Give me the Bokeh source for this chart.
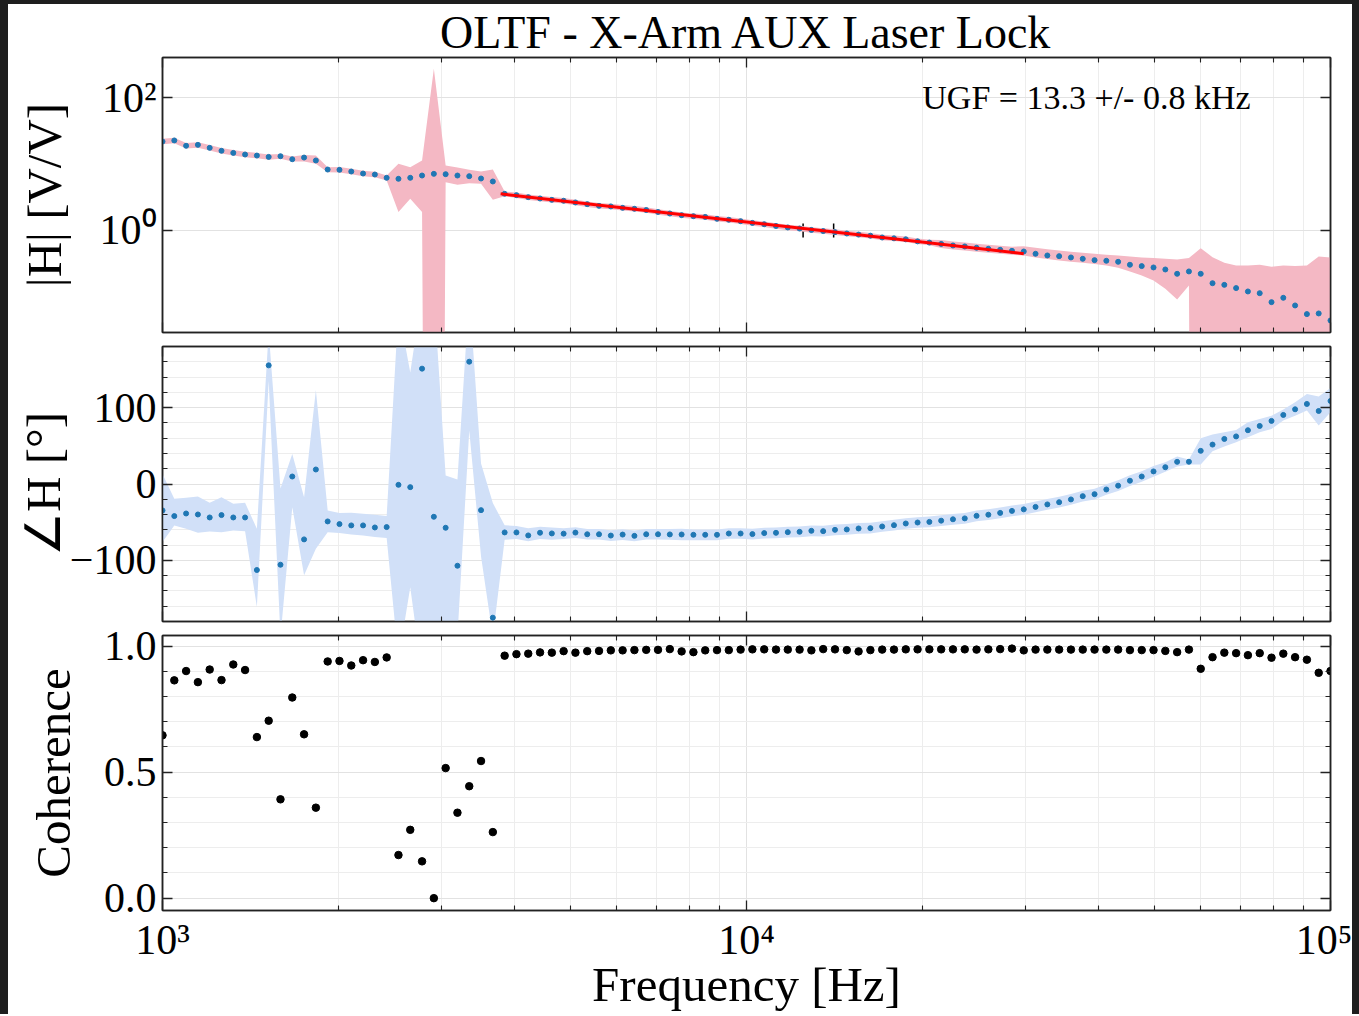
import numpy as np
from bokeh.plotting import figure
from bokeh.layouts import column
from bokeh.models import (Range1d, FixedTicker, LogAxis, LinearAxis, ColumnDataSource,
                          Whisker, TeeHead)
from bokeh.core.properties import value
from bokeh.embed import file_html
from bokeh.resources import INLINE

# swept-sine measurement grid: 100 log-spaced points, 1 kHz .. 100 kHz
freq = np.logspace(3, 5, 100)

mag = [21.8, 22.6, 18.8, 19.4, 17.5, 15.8, 14.7, 13.9, 13.4, 12.8,
       13.1, 11.8, 12.5, 11.3, 8.26, 8.17, 7.71, 7.19, 6.95, 6.20,
       5.99, 6.20, 6.71, 7.11, 7.03, 6.71, 6.56, 6.05, 5.46, 3.56,
       3.40, 3.17, 3.03, 2.89, 2.80, 2.64, 2.49, 2.35, 2.30, 2.19,
       2.12, 2.03, 1.90, 1.80, 1.70, 1.64, 1.60, 1.50, 1.45, 1.38,
       1.30, 1.24, 1.17, 1.11, 1.07, 1.02, 0.98, 0.944, 0.902, 0.868,
       0.835, 0.785, 0.762, 0.736, 0.686, 0.658, 0.628, 0.595, 0.575, 0.549,
       0.530, 0.512, 0.494, 0.483, 0.446, 0.421, 0.411, 0.393, 0.375, 0.358,
       0.350, 0.338, 0.305, 0.291, 0.278, 0.259, 0.223, 0.242, 0.223, 0.161,
       0.152, 0.136, 0.121, 0.114, 0.0836, 0.0971, 0.0745, 0.0552, 0.0565, 0.0443]

mag_hi = [24.0, 24.9, 20.7, 21.3, 19.3, 17.4, 16.2, 15.3, 14.7, 13.9,
          14.2, 13.0, 13.7, 13.4, 8.95, 8.99, 8.48, 7.91, 7.65, 6.71,
          10.07, 8.95, 11.3, 270.0, 9.49, 8.86, 8.17, 7.71, 8.26, 3.86,
          3.74, 3.49, 3.33, 3.18, 3.08, 2.90, 2.74, 2.59, 2.53, 2.41,
          2.33, 2.23, 2.09, 1.98, 1.87, 1.80, 1.76, 1.65, 1.60, 1.52,
          1.43, 1.36, 1.29, 1.22, 1.18, 1.12, 1.08, 1.04, 0.992, 0.955,
          0.919, 0.864, 0.838, 0.810, 0.755, 0.724, 0.722, 0.684, 0.661, 0.631,
          0.610, 0.589, 0.568, 0.581, 0.548, 0.524, 0.500, 0.477, 0.461, 0.446,
          0.430, 0.421, 0.406, 0.393, 0.384, 0.375, 0.366, 0.384, 0.542, 0.397,
          0.327, 0.298, 0.298, 0.305, 0.284, 0.298, 0.291, 0.298, 0.406, 0.393]

mag_lo = [19.8, 20.5, 17.1, 17.6, 15.9, 14.4, 13.4, 12.6, 12.2, 11.6,
          12.0, 10.9, 10.9, 10.1, 7.53, 7.43, 7.01, 6.54, 6.32, 5.65,
          1.89, 2.99, 1.89, 1e-30, 5.33, 4.86, 5.15, 5.03, 2.89, 3.28,
          3.09, 2.88, 2.75, 2.63, 2.55, 2.40, 2.26, 2.14, 2.09, 1.99,
          1.93, 1.85, 1.73, 1.64, 1.55, 1.49, 1.45, 1.36, 1.32, 1.25,
          1.18, 1.13, 1.06, 1.01, 0.973, 0.927, 0.891, 0.858, 0.820, 0.789,
          0.759, 0.714, 0.693, 0.669, 0.624, 0.598, 0.546, 0.517, 0.500, 0.477,
          0.461, 0.445, 0.430, 0.421, 0.393, 0.371, 0.354, 0.338, 0.327, 0.312,
          0.298, 0.275, 0.242, 0.210, 0.177, 0.133, 0.0917, 0.149, 1e-30, 1e-30,
          1e-30, 1e-30, 1e-30, 1e-30, 1e-30, 1e-30, 1e-30, 1e-30, 1e-30, 1e-30]

phase = [-34.6, -42.0, -38.6, -39.9, -43.8, -40.7, -43.8, -43.8, -112.6, 155.3,
         -105.7, 9.8, -72.5, 19.0, -49.0, -52.5, -54.2, -54.2, -56.9, -56.4,
         -1.1, -4.1, 151.0, -42.9, -57.3, -107.0, 160.1, -34.2, -175.0, -63.4,
         -63.4, -67.3, -63.8, -64.7, -65.0, -63.6, -65.8, -65.8, -67.5, -66.2,
         -67.9, -65.8, -65.8, -66.0, -66.1, -66.5, -66.5, -66.5, -64.8, -64.8,
         -65.6, -64.3, -63.9, -63.0, -62.6, -61.3, -61.7, -60.0, -59.5, -58.2,
         -57.8, -55.6, -53.9, -51.7, -50.4, -49.6, -48.0, -46.2, -45.0, -41.7,
         -40.2, -37.8, -35.2, -33.2, -30.0, -26.7, -23.8, -20.2, -15.9, -13.3,
         -7.2, -2.2, 4.3, 9.8, 16.5, 22.0, 29.0, 29.1, 43.4, 51.6,
         59.0, 62.3, 70.4, 76.0, 82.6, 90.4, 97.8, 104.8, 95.6, 108.7]

phase_hi = [13.0, -19.4, -18.1, -16.3, -24.6, -17.2, -25.9, -24.6, -58.6, 200.0,
            -6.0, 39.4, -17.2, 123.0, -34.6, -38.0, -37.7, -39.0, -40.3, -42.0,
            230.0, 146.0, 250.0, 250.0, 11.0, 6.0, 250.0, 27.0, -25.0, -54.0,
            -55.0, -58.0, -56.0, -57.0, -58.0, -56.6, -58.8, -58.8, -60.5, -59.2,
            -60.9, -58.8, -58.8, -59.0, -58.5, -59.5, -59.5, -59.5, -57.8, -57.8,
            -58.6, -57.3, -56.9, -56.0, -55.6, -54.3, -54.7, -53.0, -52.5, -51.2,
            -50.8, -48.6, -46.9, -44.7, -43.4, -42.6, -41.0, -39.2, -38.0, -34.7,
            -33.2, -30.8, -28.2, -26.2, -23.0, -19.7, -16.8, -13.2, -8.9, -6.3,
            -0.2, 4.8, 11.3, 16.8, 23.5, 28.5, 36.0, 32.0, 60.0, 64.7,
            67.8, 70.8, 80.8, 85.2, 89.5, 97.4, 107.0, 117.9, 114.4, 125.7]

phase_lo = [-76.0, -54.2, -58.6, -63.8, -62.1, -63.0, -60.8, -61.7, -161.0, 135.0,
            -200.0, -30.3, -119.6, -84.8, -63.0, -64.3, -66.0, -67.3, -69.5, -70.8,
            -230.0, -135.0, -250.0, -250.0, -200.0, -200.0, 70.0, -95.0, -200.0, -73.0,
            -72.0, -75.0, -72.0, -73.0, -72.0, -70.6, -72.8, -72.8, -74.5, -73.2,
            -74.9, -72.8, -72.8, -73.0, -73.5, -73.5, -73.5, -73.5, -71.8, -71.8,
            -72.6, -71.3, -70.9, -70.0, -69.6, -68.3, -68.7, -67.0, -66.5, -65.2,
            -64.8, -62.6, -60.9, -58.7, -57.4, -56.6, -55.0, -53.2, -52.0, -48.7,
            -47.2, -44.8, -42.2, -40.2, -37.0, -33.7, -30.8, -27.2, -22.9, -20.3,
            -14.2, -9.2, -2.7, 2.8, 9.5, 16.0, 23.0, 25.5, 25.5, 43.0,
            49.0, 54.7, 61.2, 67.8, 72.1, 83.0, 89.5, 96.1, 76.5, 94.0]

coh = [0.646, 0.864, 0.901, 0.857, 0.907, 0.865, 0.927, 0.905, 0.639, 0.704,
       0.392, 0.796, 0.650, 0.359, 0.939, 0.941, 0.923, 0.944, 0.937, 0.955,
       0.171, 0.271, 0.146, 0.000, 0.516, 0.339, 0.444, 0.544, 0.262, 0.962,
       0.968, 0.970, 0.975, 0.974, 0.980, 0.974, 0.980, 0.981, 0.983, 0.983,
       0.984, 0.985, 0.985, 0.988, 0.979, 0.976, 0.983, 0.984, 0.984, 0.986,
       0.987, 0.987, 0.986, 0.986, 0.986, 0.983, 0.988, 0.987, 0.984, 0.979,
       0.984, 0.986, 0.986, 0.987, 0.987, 0.987, 0.987, 0.987, 0.987, 0.986,
       0.987, 0.988, 0.990, 0.983, 0.986, 0.986, 0.986, 0.986, 0.986, 0.986,
       0.986, 0.986, 0.984, 0.984, 0.984, 0.981, 0.976, 0.986, 0.910, 0.956,
       0.974, 0.972, 0.964, 0.972, 0.954, 0.970, 0.956, 0.946, 0.894, 0.901]

# power-law fit of |H| around the UGF (end points of the fitted segment)
fit_freq = [3793.0, 29836.0]
fit_mag = [3.56, 0.447]

# unity gain frequency and its uncertainty
ugf_freq = 13300.0
ugf_err = 800.0
ugf_text = "UGF = 13.3 +/- 0.8 kHz"

title_text = "OLTF - X-Arm AUX Laser Lock"

x_major = [1e3, 1e4, 1e5]
x_minor = [m * 10.0 ** e for e in (3, 4) for m in range(2, 10)]
x_labels = {1000: "10³", 10000: "10⁴", 100000: "10⁵"}
mag_ticks = [1, 100]
mag_labels = {1: "10⁰", 100: "10²"}
phase_ticks = [-100, 0, 100]
phase_minor = list(range(-160, 161, 20))
phase_labels = {-100: "−100", 0: "0", 100: "100"}
coh_ticks = [0.0, 0.5, 1.0]
coh_minor = [round(0.1 * i, 1) for i in range(11)]
coh_labels = {0: "0.0", 0.5: "0.5", 1: "1.0"}

FONT = "Liberation Serif"
EDGE = "#222222"
TICK_FS = "42px"
LABEL_FS = "49px"

x_range = Range1d(1e3, 1e5)


def make_fig(y_range, y_type, b_top, b_bottom):
    p = figure(frame_width=1168, frame_height=275, x_axis_type="log", y_axis_type=y_type,
               x_range=x_range, y_range=y_range, output_backend="svg", toolbar_location=None,
               min_border_left=154, min_border_right=22, min_border_top=b_top,
               min_border_bottom=b_bottom, border_fill_color="white",
               background_fill_color="white")
    p.outline_line_color = EDGE
    p.outline_line_width = 1.5
    return p


def style_axis(ax, ticker, labels=None, show=False):
    ax.ticker = ticker
    ax.major_tick_in = 10
    ax.major_tick_out = 0
    ax.minor_tick_in = 5
    ax.minor_tick_out = 0
    ax.axis_line_color = EDGE
    ax.axis_line_width = 1.5
    ax.major_tick_line_color = EDGE
    ax.minor_tick_line_color = EDGE
    ax.major_tick_line_width = 1.3
    ax.minor_tick_line_width = 1.1
    ax.major_label_text_font = FONT
    ax.major_label_text_line_height = 1.0
    ax.axis_label_text_line_height = 1.0
    if show:
        ax.major_label_overrides = labels
        ax.major_label_text_font_size = TICK_FS
        ax.major_label_text_color = "black"
        ax.major_label_standoff = 6
        ax.axis_label_text_font = FONT
        ax.axis_label_text_font_size = LABEL_FS
        ax.axis_label_text_font_style = "normal"
        ax.axis_label_text_color = "black"
    else:
        ax.major_label_text_font_size = "1px"
        ax.major_label_text_color = None
        ax.major_label_standoff = 0


def decorate(p, y_log, yt, ylabels, ylabel, ystand, show_x):
    xt = FixedTicker(ticks=x_major, minor_ticks=x_minor)
    bottom = p.below[0]
    left = p.left[0]
    style_axis(bottom, xt, x_labels, show_x)
    style_axis(left, yt, ylabels, True)
    left.axis_label = ylabel
    left.axis_label_standoff = ystand
    top = LogAxis()
    style_axis(top, FixedTicker(ticks=x_major, minor_ticks=x_minor))
    p.add_layout(top, "above")
    right = LogAxis() if y_log else LinearAxis()
    style_axis(right, yt)
    p.add_layout(right, "right")
    p.xgrid.ticker = xt
    p.ygrid.ticker = yt
    for g in (p.xgrid, p.ygrid):
        g.grid_line_color = "#e2e2e2"
        g.grid_line_width = 1
        g.minor_grid_line_color = "#ededed"
        g.minor_grid_line_width = 1
    return bottom


# ---------- magnitude ----------
p1 = make_fig(Range1d(0.0292, 400), "log", 53, 7)
p1.title.text = title_text
p1.title.text_font = FONT
p1.title.text_font_size = "46px"
p1.title.text_line_height = 1.0
p1.title.text_font_style = "normal"
p1.title.text_color = "black"
p1.title.align = "center"
p1.title.standoff = 0
decorate(p1, True, FixedTicker(ticks=mag_ticks), mag_labels, "|H| [V/V]", 25, False)

p1.varea(x=freq, y1=mag_lo, y2=mag_hi, fill_color="#f4b8c4", fill_alpha=1.0)
p1.scatter(freq, mag, size=5, fill_color="#1f77b4", line_color="#1f77b4")
p1.line(fit_freq, fit_mag, line_color="red", line_width=3)
ugf_src = ColumnDataSource(dict(base=[1.0], lower=[ugf_freq - ugf_err], upper=[ugf_freq + ugf_err]))
p1.add_layout(Whisker(source=ugf_src, base="base", lower="lower", upper="upper",
                      dimension="width", line_color="black", line_width=1.5,
                      lower_head=TeeHead(size=14, line_color="black", line_width=1.5),
                      upper_head=TeeHead(size=14, line_color="black", line_width=1.5)))
p1.text(x=[2e4], y=[100], text=[ugf_text], text_font=value(FONT), text_font_size="34px",
        text_color="black", text_align="left", text_baseline="alphabetic")

# ---------- phase ----------
p2 = make_fig(Range1d(-180, 180), "linear", 7, 2)
decorate(p2, False, FixedTicker(ticks=phase_ticks, minor_ticks=phase_minor), phase_labels,
         "∠H [°]", -4, False)
p2.varea(x=freq, y1=phase_lo, y2=phase_hi, fill_color="#d1e0f8", fill_alpha=1.0)
p2.scatter(freq, phase, size=5, fill_color="#1f77b4", line_color="#1f77b4")

# ---------- coherence ----------
p3 = make_fig(Range1d(-0.049, 1.042), "linear", 12, 104)
xb = decorate(p3, False, FixedTicker(ticks=coh_ticks, minor_ticks=coh_minor), coh_labels,
              "Coherence", 20, True)
xb.axis_label = "Frequency [Hz]"
xb.axis_label_standoff = -9
p3.scatter(freq, coh, size=7.5, fill_color="black", line_color="black")

layout = column(p1, p2, p3, styles={"background-color": "white",
                                    "border-style": "solid",
                                    "border-color": "#1e1e1e",
                                    "border-width": "4px 7px 0px 8px"})

open("out.html", "w").write(file_html(layout, INLINE))
